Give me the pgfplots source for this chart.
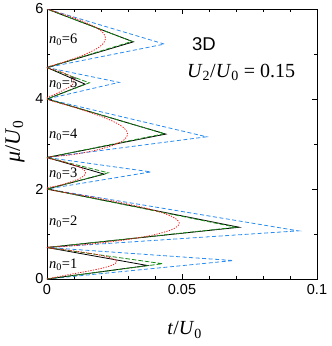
\documentclass[border=0pt]{standalone}
\usepackage{fontspec}
\setmainfont{Liberation Sans}
\newfontfamily\tms{Liberation Serif}
\usepackage{pgfplots}
\pgfplotsset{compat=1.18}

\definecolor{mblue}{RGB}{40,140,240}
\definecolor{mgreen}{RGB}{20,140,20}
\definecolor{mred}{RGB}{255,20,20}

% italic symbol with upright subscript, Times-like
\newcommand{\sym}[2]{\textit{#1}\textsubscript{#2}}

\begin{document}
\begin{tikzpicture}
\begin{axis}[
    width=270pt, height=270pt, scale only axis,
    xmin=0, xmax=0.1, ymin=0, ymax=6,
    xtick={0,0.05,0.1}, xticklabels={0,0.05,0.1},
    minor xtick={0.01,0.02,0.03,0.04,0.06,0.07,0.08,0.09},
    ytick={0,2,4,6}, yticklabels={0,2,4,6},
    minor ytick={1,3,5},
    /pgf/number format/assume math mode=true,
    tick align=inside,
    major tick length=5pt, minor tick length=3pt,
    tick style={black, line width=0.6pt},
    axis line style={line width=0.8pt},
    every tick label/.append style={font=\fontsize{14.5}{16}\selectfont},
    xticklabel style={yshift=-2pt},
    xlabel={\tms\sym{t}{\upshape 0}},
    xlabel={{\tms\textit{t}/\sym{U}{\upshape 0}}},
    ylabel={{\tms\textit{μ}/\sym{U}{\upshape 0}}},
    xlabel style={at={(axis description cs:0.51,-0.189)}, anchor=center,
        font=\fontsize{20}{22}\selectfont},
    ylabel style={at={(axis description cs:-0.1185,0.51)}, anchor=center,
        font=\fontsize{22}{24}\selectfont},
]

% upper estimate
\addplot[mblue, line width=0.8pt, dash pattern=on 4pt off 2.5pt] coordinates {
(0,0)(0.069,0.41)(0,0.7)(0.0931,1.07)(0,2)(0.0385,2.38)(0,2.7)(0.0591,3.16)(0,4)(0.0267,4.37)(0,4.7)(0.0435,5.22)(0,6)
};

% main result
\addplot[black, line width=0.8pt] coordinates {
(0,0)(0.0372,0.30)(0,0.7)(0.0712,1.15)(0,2)(0.0212,2.33)(0,2.7)(0.044,3.22)(0,4)(0.0141,4.33)(0,4.7)(0.032,5.27)(0,6)
};

\addplot[mgreen, line width=0.8pt, dash pattern=on 4.5pt off 2pt] coordinates {
(0,0)(0.0428,0.34)(0,0.7)(0.0700,1.15)(0,2)(0.0227,2.36)(0,2.7)(0.0435,3.23)(0,4)(0.0157,4.36)(0,4.7)(0.0315,5.28)(0,6)
};

% mean field
\addplot[mred, line width=0.8pt, dash pattern=on 1.2pt off 1.4pt, smooth] coordinates {
(0,0)(0.00797,0.0960)(0.01517,0.1747)(0.02087,0.2478)(0.02454,0.3176)(0.0258,0.385)(0.02454,0.4506)(0.02087,0.5146)(0.01517,0.5774)(0.00797,0.6392)(0,0.7)
(0.00766,0.7292)(0.01514,0.7702)(0.02880,0.8691)(0.03964,0.9826)(0.04660,1.1070)(0.049,1.24)(0.04660,1.3804)(0.03964,1.5272)(0.02880,1.6798)(0.01514,1.8375)(0,2)
(0.00442,2.0767)(0.00841,2.1492)(0.01157,2.2203)(0.01360,2.2904)(0.0143,2.3598)(0.01360,2.4286)(0.01157,2.4970)(0.00841,2.5650)(0.00442,2.6327)(0,2.7)
(0.00924,2.7619)(0.01757,2.8548)(0.02419,2.9647)(0.02844,3.0871)(0.0299,3.22)(0.02844,3.3618)(0.02419,3.5113)(0.01757,3.6680)(0.00924,3.8310)(0,4)
(0.00312,4.1091)(0.00594,4.1909)(0.00817,4.2648)(0.00961,4.3340)(0.0101,4.4)(0.00961,4.4635)(0.00817,4.5249)(0.00594,4.5846)(0.00312,4.6429)(0,4.7)
(0.00671,4.83)(0.01276,4.96)(0.01756,5.09)(0.02064,5.22)(0.0217,5.35)(0.02064,5.48)(0.01756,5.61)(0.01276,5.74)(0.00671,5.87)(0,6)
};

\begin{scope}[every node/.style={anchor=west, inner sep=0pt, font=\tms\fontsize{14.5}{16}\selectfont}]
\node at (axis cs:0.0007,5.31) {\sym{n}{0}=6};
\node at (axis cs:0.0007,4.33) {\sym{n}{0}=5};
\node at (axis cs:0.0007,3.20) {\sym{n}{0}=4};
\node at (axis cs:0.0007,2.33) {\sym{n}{0}=3};
\node at (axis cs:0.0007,1.27) {\sym{n}{0}=2};
\node at (axis cs:0.0007,0.31) {\sym{n}{0}=1};
\end{scope}

\node[font=\fontsize{18.5}{20}\selectfont] at (axis cs:0.0581,5.22) {3D};
\node[font=\tms\fontsize{20}{22}\selectfont] at (axis cs:0.0719,4.6)
    {\sym{U}{2}/\sym{U}{0} = 0.15};
\end{axis}
\pgfresetboundingbox
\path ([shift={(-47pt,-67pt)}]current axis.south west)
    rectangle ([shift={(15pt,9pt)}]current axis.north east);
\end{tikzpicture}
\end{document}
